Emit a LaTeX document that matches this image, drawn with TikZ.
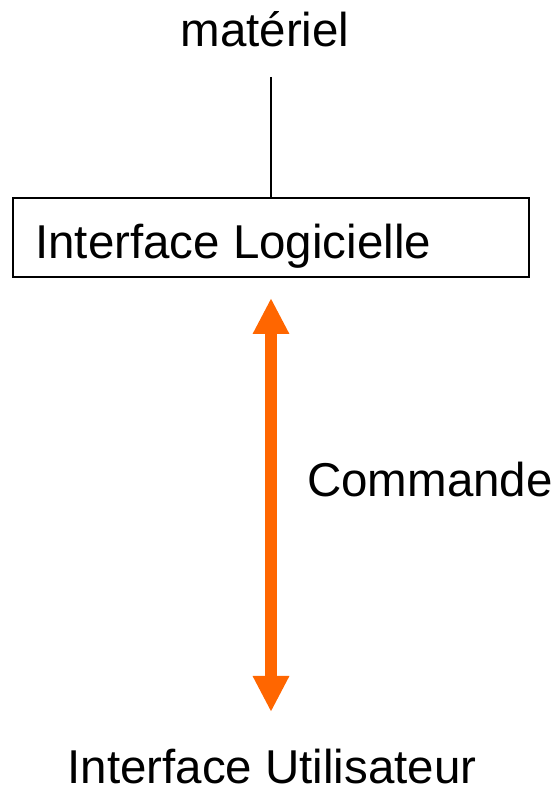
\documentclass[tikz,border=0pt]{standalone}
\usepackage{fontspec}
\setmainfont{Liberation Sans}
\usetikzlibrary{arrows.meta}
\definecolor{cmdorange}{HTML}{FF6600}
\begin{document}
\begin{tikzpicture}[x=1pt,y=1pt,
  label text/.style={font=\fontsize{47.5}{56}\selectfont, inner sep=0pt},
  layer box/.style={draw=black, line width=1.2pt, minimum width=516pt, minimum height=79pt, inner sep=0pt},
  link/.style={draw=black, line width=1.2pt},
  command arrow/.style={draw=cmdorange, line width=12pt,
    {Triangle[width=34pt,length=36pt]}-{Triangle[width=34pt,length=36pt]}}]
  \useasboundingbox (0,0) rectangle (557,788);
  % hardware label and its link to the software layer
  \node[label text, anchor=base] (hw) at (265,741) {matériel};
  \node[layer box] (sw) at (271,550.5) {};
  \node[label text, anchor=base west] (swtext) at (35,529) {Interface Logicielle};
  \coordinate (hwend) at (271,711);
  \draw[link] (hwend) -- (sw.north -| hwend);
  % bidirectional command arrow between the two interfaces
  \coordinate (atop) at (271,490);
  \coordinate (abot) at (271,76);
  \draw[command arrow] (atop) -- (abot);
  \node[label text, anchor=base west] (cmd) at (307,291) {Commande};
  \node[label text, anchor=base] (ui) at (272,5) {Interface Utilisateur};
\end{tikzpicture}
\end{document}
